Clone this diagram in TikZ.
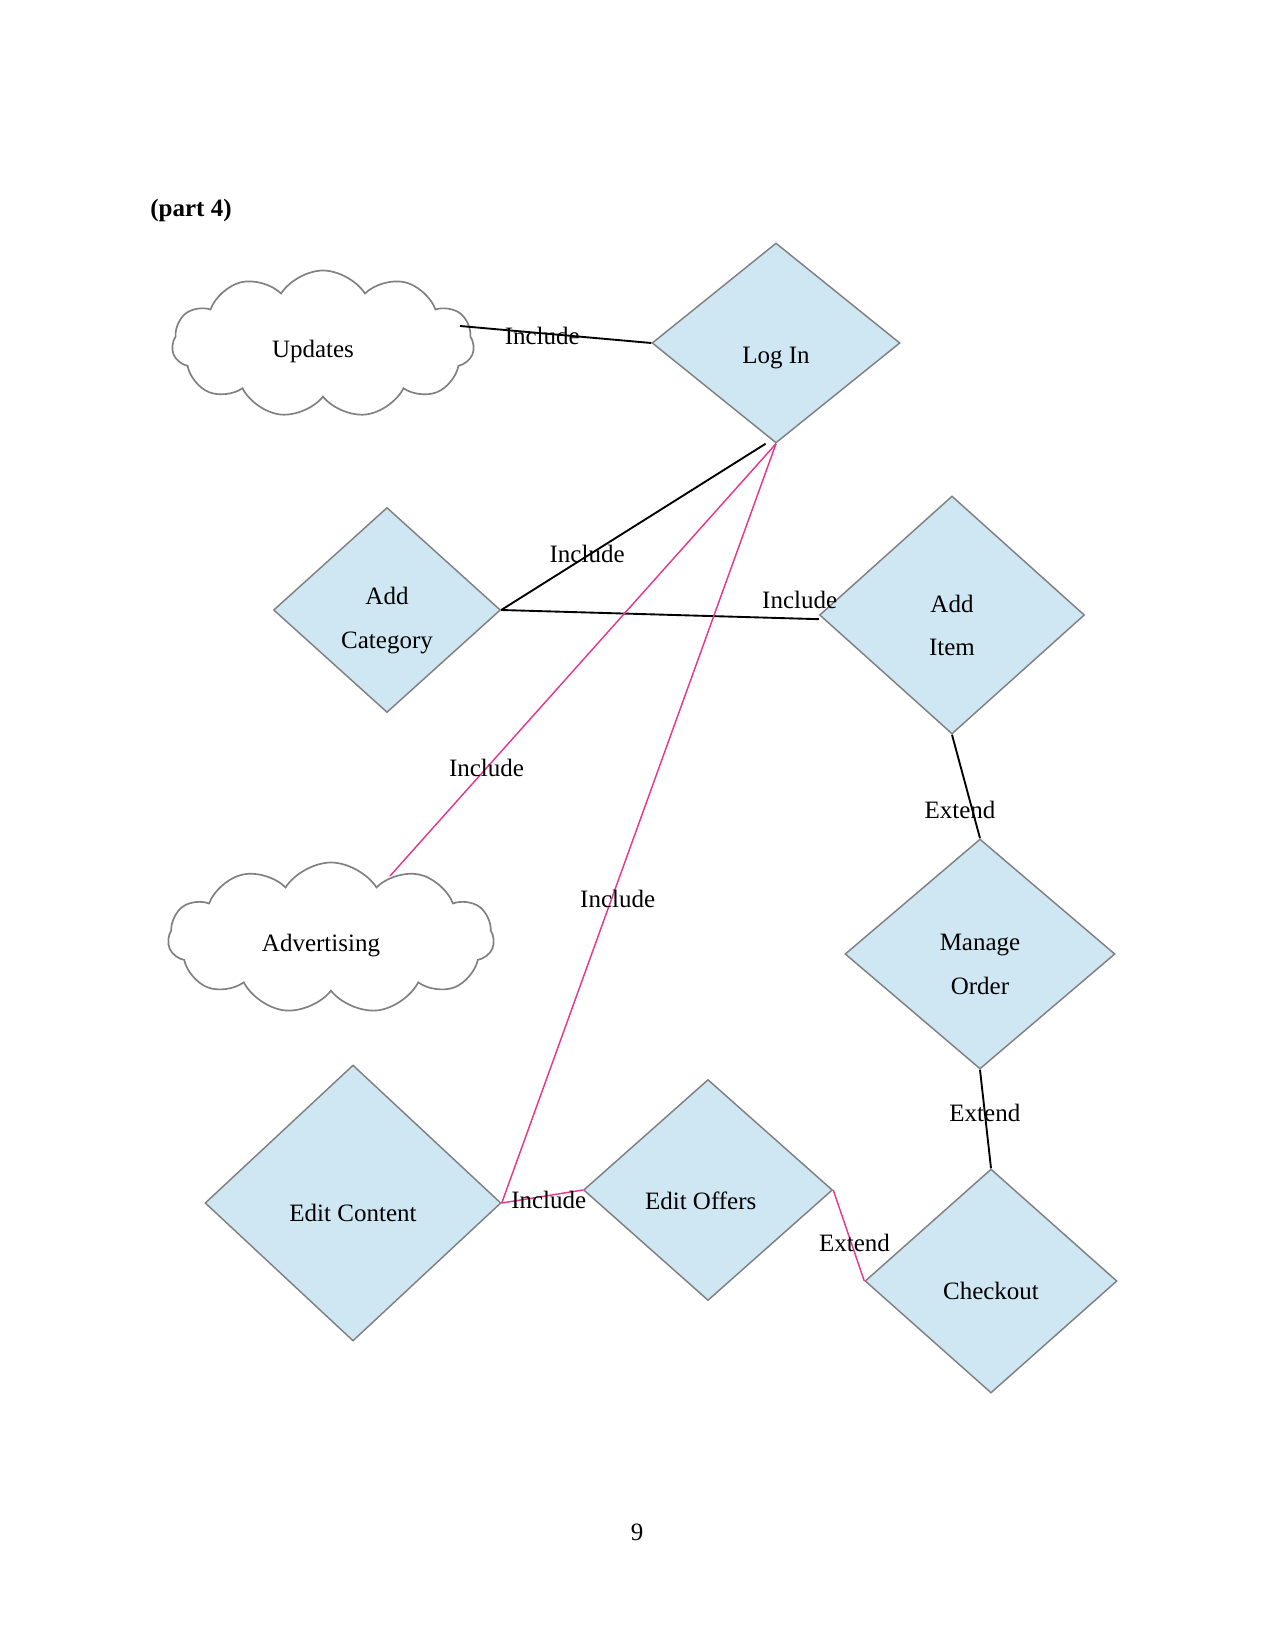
\documentclass[tikz,border=0pt]{standalone}
\usepackage{fontspec}
\setmainfont{Liberation Serif}
\usetikzlibrary{shapes.geometric,shapes.symbols}
\definecolor{dfill}{RGB}{207,230,243}
\definecolor{dline}{RGB}{128,128,128}
\definecolor{pinkln}{RGB}{232,56,142}
\begin{document}
\begin{tikzpicture}[x=0.48pt,y=-0.48pt,
  every node/.style={font=\fontsize{12}{21}\selectfont},
  uc/.style={diamond,draw=dline,line width=0.7pt,fill=dfill,inner sep=0pt},
  ut/.style={align=center,yshift=-5pt},
  cl/.style={cloud,cloud puffs=11,cloud puff arc=115,aspect=2,draw=dline,line width=0.8pt,fill=white,inner sep=0pt},
  blk/.style={draw=black,line width=0.9pt},
  pnk/.style={draw=pinkln,line width=0.7pt},
  lbl/.style={inner sep=0pt}]
\useasboundingbox (0,0) rectangle (1275,1651);
\node[font=\fontsize{12}{14}\selectfont\bfseries] (title) at (191,210) {(part 4)};
\node (pg) at (637,1532) {9};

\node[cl,minimum width=302*0.48pt,minimum height=147*0.48pt] (upd) at (323,344) {};
\node (updt) at (313,351) {Updates};
\node[cl,minimum width=326*0.48pt,minimum height=151*0.48pt] (adv) at (331,938) {};
\node (advt) at (321,946) {Advertising};

\node[uc,minimum width=248*0.48pt,minimum height=200*0.48pt] (login) at (776,343) {};
\node[uc,minimum width=227*0.48pt,minimum height=205*0.48pt] (addcat) at (387,610) {};
\node[uc,minimum width=265*0.48pt,minimum height=238*0.48pt] (additem) at (952,615) {};
\node[uc,minimum width=270*0.48pt,minimum height=230*0.48pt] (manage) at (980,954) {};
\node[uc,minimum width=252*0.48pt,minimum height=224*0.48pt] (checkout) at (991,1281) {};
\node[uc,minimum width=296*0.48pt,minimum height=276*0.48pt] (editc) at (353,1203) {};
\node[uc,minimum width=249*0.48pt,minimum height=221*0.48pt] (edito) at (708,1190) {};

\node[ut,yshift=-2pt] (logint) at (login.center) {Log In};
\node[ut] (addcatt) at (addcat.center) {Add\\Category};
\node[ut] (additemt) at (additem.center) {Add\\Item};
\node[ut] (managet) at (manage.center) {Manage\\Order};
\node[ut] (checkoutt) at (checkout.center) {Checkout};
\node[ut] (editct) at (editc.center) {Edit Content};
\node[ut,xshift=-3.5pt] (editot) at (edito.center) {Edit Offers};

\coordinate (updE) at (460,326);
\draw[blk] (updE) -- node[lbl,pos=0.43,yshift=-1.5pt] {Include} (login.west);
\draw[blk] ([xshift=-5pt]login.south) -- node[lbl,pos=0.675,yshift=1pt] {Include} (addcat.east);
\draw[blk] (addcat.east) -- node[lbl,pos=0.93,yshift=9pt,xshift=1.5pt] {Include} ([yshift=-2pt]additem.west);
\draw[pnk] (login.south) -- node[lbl,pos=0.75] {Include} ([shift={(59,-62)}]adv.center);
\draw[pnk] (login.south) -- node[lbl,pos=0.6,xshift=3pt] {Include} (editc.east);
\draw[pnk] (editc.east) -- node[lbl,pos=0.58,yshift=-2pt] {Include} (edito.west);
\draw[pnk] (edito.east) -- node[lbl,pos=0.585,xshift=1.5pt] {Extend} (checkout.west);
\draw[blk] (additem.south) -- node[lbl,pos=0.73,xshift=-6pt] {Extend} (manage.north);
\draw[blk] (manage.south) -- node[lbl,pos=0.44] {Extend} (checkout.north);
\end{tikzpicture}
\end{document}
